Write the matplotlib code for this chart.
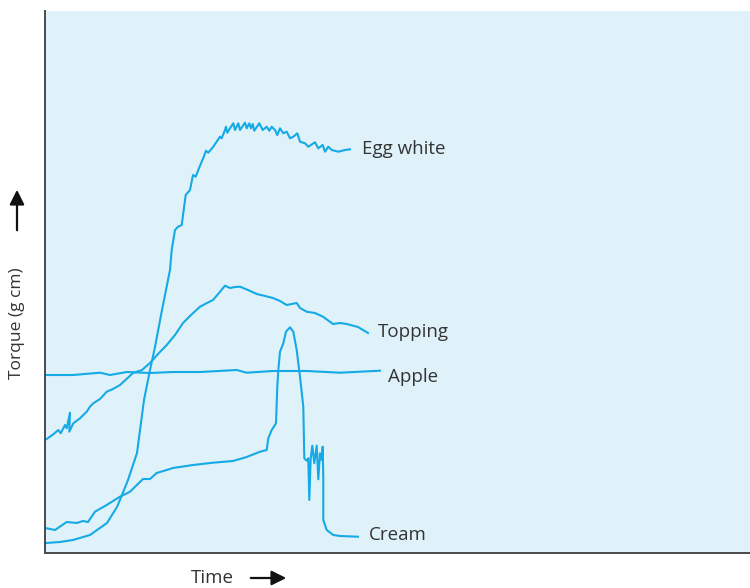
import matplotlib
matplotlib.use("Agg")
import matplotlib.pyplot as plt

plt.rcParams['font.family'] = ['Open Sans', 'DejaVu Sans']

# Torque curves (arbitrary time / torque units)
egg_time = [1, 15, 28, 45, 62, 72, 77, 83, 92, 99, 105, 110, 117, 125, 126.7, 130, 132.7,
            136.7, 140.7, 145, 148, 150.7, 153.3, 156.7, 158.3, 161, 163.3, 168.3, 175,
            176.7, 180, 181, 182.3, 185, 188.3, 190, 193.3, 195, 200, 201.7, 204.3, 206,
            207.7, 209.3, 214.3, 217.7, 221.7, 224.3, 226.7, 230, 232.3, 235, 238.3, 241.7,
            245, 248.3, 252.3, 255, 260, 263.3, 270, 273.3, 277.7, 280, 283.3, 286.7, 293.3,
            300, 305]
egg_torque = [10, 11, 13, 18, 30, 46, 58, 73, 100, 153, 183, 206, 243, 283, 303, 323, 326,
              328, 358, 363, 378, 376.3, 383, 391.3, 395, 402.3, 400.3, 406.3, 416.3, 414.7,
              423, 426.3, 420.3, 424.7, 429.7, 423, 429.7, 423, 430.3, 424.7, 429.7, 424.7,
              429, 422.3, 429.7, 423, 426.3, 422.3, 426.3, 423, 418, 424.7, 419.7, 421.3,
              414.7, 416.3, 419.7, 411.3, 409.7, 406.3, 410.7, 404.7, 408, 401.3, 406.3, 403,
              401.3, 403, 403.7]

top_time = [1.7, 8.3, 13.3, 15.7, 20, 21.7, 25, 24.3, 28.3, 35, 41.7, 45, 48.3, 55, 61.7,
            68, 75, 88, 97, 105, 113, 121.7, 130, 138, 146, 155, 162, 168, 174, 180, 185,
            190, 195, 203, 211.7, 220, 228, 235, 241.7, 251.7, 255, 261.7, 270, 278, 288,
            295, 301.7, 313, 323]
top_torque = [114, 118.7, 123, 119.7, 128, 124.7, 140.3, 121.3, 129.7, 134.7, 141.3, 146.3,
              149.7, 154, 161.3, 164, 168, 180, 183, 190, 199, 208, 218, 230, 238, 246.3,
              250, 253, 260, 267.3, 265, 266, 266.3, 263, 259, 257, 255, 252, 248, 250, 245,
              241.3, 240, 236.3, 229, 230, 229, 226, 220]

apple_time = [1, 28, 55, 65, 81.7, 105, 128, 155, 191.7, 201.7, 228, 261.7, 295, 335]
apple_torque = [178, 178, 180.3, 178, 181, 180, 181, 181, 183, 180.3, 182, 182, 180.3, 182.3]

cream_time = [1.7, 10, 21.7, 31.7, 38, 43, 50, 61.7, 75, 85, 98, 105, 111.7, 121.7, 128,
              148, 168, 188, 201.7, 215, 221.7, 223.3, 226.7, 231, 232.3, 233.3, 235, 238.3,
              241, 245, 248.3, 251.7, 255, 258.3, 259.3, 261.7, 263.3, 264.3, 265.7, 267.3,
              269.3, 271.7, 273.3, 275, 276.7, 277.7, 278.3, 278.3, 281.7, 288.3, 295, 313]
cream_torque = [24.7, 23, 31, 30, 32, 31, 41.3, 48, 56.3, 61.3, 74, 74, 80, 83, 85, 88,
                90.3, 92, 96, 101.3, 103, 114.7, 123, 129.7, 166.3, 183, 201.3, 209.7, 221.3,
                225.7, 221.3, 203, 176.3, 146.3, 94.7, 92.3, 94.7, 53, 94.7, 107.3, 89.7,
                107.3, 73.7, 99.7, 93, 106.3, 73, 33, 23, 18, 17, 16.3]

labels = ["Egg white", "Topping", "Apple", "Cream"]
label_time = [317, 333, 343, 324]
label_torque = [404, 221, 176, 18]

line_color = '#15aae6'
text_color = '#333333'

fig = plt.figure(figsize=(7.5, 5.88), dpi=100)
ax = fig.add_axes([45 / 750, 35 / 588, 705 / 750, 542 / 588])
ax.set_facecolor('#dff2fa')

for t, q in [(egg_time, egg_torque), (top_time, top_torque),
             (apple_time, apple_torque), (cream_time, cream_torque)]:
    ax.plot(t, q, color=line_color, lw=1.5, solid_joinstyle='round')

for name, t, q in zip(labels, label_time, label_torque):
    ax.text(t, q, name, fontsize=13.5, color=text_color, va='center', ha='left')

ax.set_xlim(0, 705)
ax.set_ylim(0, 542)
ax.set_xticks([])
ax.set_yticks([])
for side in ['top', 'right']:
    ax.spines[side].set_visible(False)
for side in ['left', 'bottom']:
    ax.spines[side].set_color('#4a4a4a')
    ax.spines[side].set_linewidth(1.4)

# Axis titles with direction arrows
fig.text(17 / 750, 1 - 323 / 588, "Torque (g cm)", rotation=90, fontsize=12.5,
         color=text_color, ha='center', va='center')
fig.add_artist(matplotlib.patches.FancyArrowPatch(
    (17 / 750, 1 - 233 / 588), (17 / 750, 1 - 187 / 588), transform=fig.transFigure,
    arrowstyle='-|>', mutation_scale=22, color='#111111', lw=1.6))

fig.text(212 / 750, 1 - 578 / 588, "Time", fontsize=13.5, color=text_color,
         ha='center', va='center')
fig.add_artist(matplotlib.patches.FancyArrowPatch(
    (248 / 750, 1 - 578 / 588), (289 / 750, 1 - 578 / 588), transform=fig.transFigure,
    arrowstyle='-|>', mutation_scale=22, color='#111111', lw=1.6))

fig.savefig("out.png", dpi=100, facecolor='white')
